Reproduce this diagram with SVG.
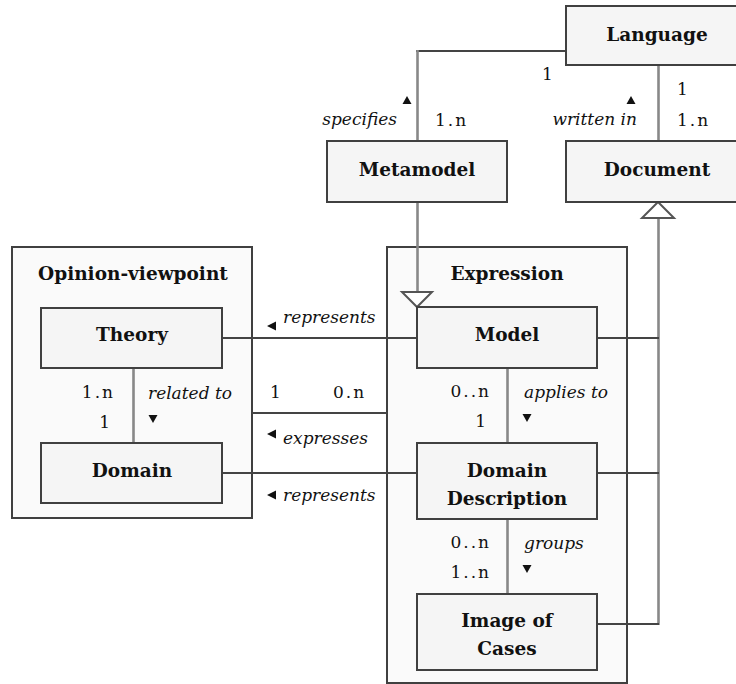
<svg xmlns="http://www.w3.org/2000/svg" width="736" height="684" viewBox="0 0 736 684">
  <style>
    .pkg { fill: #fafafa; stroke: #404040; stroke-width: 2; }
    .box { fill: #f5f5f5; stroke: #404040; stroke-width: 2; }
    .title { font-family: "DejaVu Serif", "Liberation Serif", serif; font-weight: bold; font-size: 18.5px; fill: #111; text-anchor: middle; }
    .role { font-family: "DejaVu Serif", "Liberation Serif", serif; font-style: italic; font-size: 17px; fill: #111; }
    .mult { font-family: "DejaVu Serif", "Liberation Serif", serif; font-size: 17px; fill: #111; letter-spacing: 2px; }
    .h { stroke: #444; stroke-width: 2; fill: none; }
    .v { stroke: #888; stroke-width: 2.6; fill: none; }
    .gen { fill: #fff; stroke: #555; stroke-width: 2; }
    .dir { fill: #111; }
  </style>

  <rect width="736" height="684" fill="#fff"/>

  <!-- packages -->
  <g id="opinion-viewpoint">
    <rect class="pkg" x="12" y="247" width="240" height="271"/>
    <text class="title" x="133" y="280">Opinion-viewpoint</text>
  </g>
  <g id="expression">
    <rect class="pkg" x="387" y="247" width="240" height="436"/>
    <text class="title" x="507" y="280">Expression</text>
  </g>

  <!-- connectors -->
  <g id="connectors">
    <!-- Language - Metamodel -->
    <path class="h" d="M566 51 H416"/>
    <path class="v" d="M417.5 50 V141"/>
    <!-- Language - Document -->
    <path class="v" d="M658.5 65 V141"/>
    <!-- Metamodel generalization into Model -->
    <path class="v" d="M417.5 202 V292"/>
    <polygon class="gen" points="402,292 432,292 417,307"/>
    <!-- Document generalization -->
    <path class="v" d="M658.5 218 V625"/>
    <polygon class="gen" points="658,202 642,218 674,218"/>
    <path class="h" d="M597 338 H659"/>
    <path class="h" d="M597 473 H659"/>
    <path class="h" d="M597 624 H659"/>
    <!-- Theory - Model -->
    <path class="h" d="M222 338 H417"/>
    <!-- Theory - Domain -->
    <path class="v" d="M133.5 368 V443"/>
    <!-- Opinion-viewpoint - Expression -->
    <path class="h" d="M252 413 H387"/>
    <!-- Domain - Domain Description -->
    <path class="h" d="M222 473 H417"/>
    <!-- Model - Domain Description -->
    <path class="v" d="M507.5 368 V443"/>
    <!-- Domain Description - Image of Cases -->
    <path class="v" d="M507.5 519 V594"/>

    <!-- direction marks -->
    <polygon class="dir" points="402.5,104 411.5,104 407,96"/>
    <polygon class="dir" points="626.5,104 635.5,104 631,96"/>
    <polygon class="dir" points="267,326 276,321.5 276,330.5"/>
    <polygon class="dir" points="267,434 276,429.5 276,438.5"/>
    <polygon class="dir" points="267,495 276,490.5 276,499.5"/>
    <polygon class="dir" points="148.5,415 157.5,415 153,423"/>
    <polygon class="dir" points="522.5,414 531.5,414 527,422"/>
    <polygon class="dir" points="522.5,565 531.5,565 527,573"/>

    <!-- role names -->
    <text class="role" x="397" y="125" text-anchor="end">specifies</text>
    <text class="role" x="637" y="125" text-anchor="end">written in</text>
    <text class="role" x="283" y="323">represents</text>
    <text class="role" x="148" y="399">related to</text>
    <text class="role" x="283" y="444">expresses</text>
    <text class="role" x="283" y="501">represents</text>
    <text class="role" x="524" y="398">applies to</text>
    <text class="role" x="524" y="549">groups</text>

    <!-- multiplicities -->
    <text class="mult" x="542" y="80">1</text>
    <text class="mult" x="435" y="126">1.n</text>
    <text class="mult" x="677" y="95">1</text>
    <text class="mult" x="677" y="126">1.n</text>
    <text class="mult" x="115" y="398" text-anchor="end">1.n</text>
    <text class="mult" x="112" y="428" text-anchor="end">1</text>
    <text class="mult" x="270" y="398">1</text>
    <text class="mult" x="333" y="398">0.n</text>
    <text class="mult" x="491" y="397" text-anchor="end">0..n</text>
    <text class="mult" x="488" y="427" text-anchor="end">1</text>
    <text class="mult" x="491" y="548" text-anchor="end">0..n</text>
    <text class="mult" x="491" y="578" text-anchor="end">1..n</text>
  </g>

  <!-- classes -->
  <g id="language">
    <rect class="box" x="566" y="6" width="184" height="59"/>
    <text class="title" x="657" y="41">Language</text>
  </g>
  <g id="metamodel">
    <rect class="box" x="327" y="141" width="180" height="61"/>
    <text class="title" x="417" y="176">Metamodel</text>
  </g>
  <g id="document">
    <rect class="box" x="566" y="141" width="184" height="61"/>
    <text class="title" x="657" y="176">Document</text>
  </g>
  <g id="theory">
    <rect class="box" x="41" y="308" width="181" height="60"/>
    <text class="title" x="132" y="341">Theory</text>
  </g>
  <g id="domain">
    <rect class="box" x="41" y="443" width="181" height="60"/>
    <text class="title" x="132" y="477">Domain</text>
  </g>
  <g id="model">
    <rect class="box" x="417" y="307" width="180" height="61"/>
    <text class="title" x="507" y="341">Model</text>
  </g>
  <g id="domain-description">
    <rect class="box" x="417" y="443" width="180" height="76"/>
    <text class="title" x="507" y="477">Domain</text>
    <text class="title" x="507" y="505">Description</text>
  </g>
  <g id="image-of-cases">
    <rect class="box" x="417" y="594" width="180" height="76"/>
    <text class="title" x="507" y="627">Image of</text>
    <text class="title" x="507" y="655">Cases</text>
  </g>
</svg>
